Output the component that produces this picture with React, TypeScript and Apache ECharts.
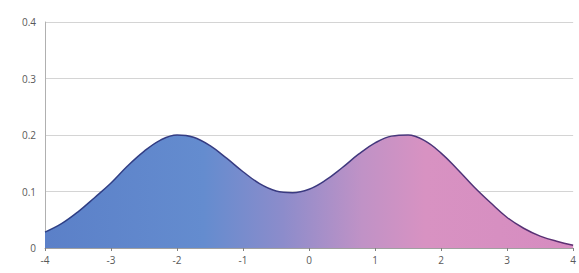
import React, { useEffect, useRef } from "react";
import * as echarts from "echarts";

const xValues = [
  -4, -3.75, -3.5, -3.25, -3, -2.75, -2.5, -2.25, -2, -1.75, -1.5, -1.25, -1,
  -0.75, -0.5, -0.25, 0, 0.25, 0.5, 0.75, 1, 1.25, 1.5, 1.75, 2, 2.25, 2.5,
  2.75, 3, 3.25, 3.5, 3.75, 4,
];
const density = [
  0.028, 0.043, 0.064, 0.089, 0.115, 0.145, 0.171, 0.191, 0.2, 0.196, 0.181,
  0.159, 0.135, 0.114, 0.101, 0.098, 0.104, 0.12, 0.142, 0.166, 0.186, 0.198,
  0.2, 0.19, 0.168, 0.139, 0.108, 0.08, 0.054, 0.035, 0.021, 0.012, 0.005,
];
const yTicks = [0, 0.1, 0.2, 0.3, 0.4];

export default function App() {
  const ref = useRef<HTMLDivElement>(null);
  useEffect(() => {
    if (!ref.current) return;
    const chart = echarts.init(ref.current, undefined, { renderer: "svg" });
    const data = xValues.map((x, i) => [x, density[i]]);
    chart.setOption({
      animation: false,
      backgroundColor: "#ffffff",
      grid: { left: 45, right: 3, top: 22, bottom: 25 },
      xAxis: {
        type: "value",
        min: -4,
        max: 4,
        interval: 1,
        axisLine: { show: true, onZero: false, lineStyle: { color: "#a0a0a0", width: 1 } },
        axisTick: { show: true, length: 3, lineStyle: { color: "#808080" } },
        axisLabel: {
          color: "#595959",
          fontSize: 10,
          fontFamily: "Open Sans",
          margin: 7,
          showMinLabel: true,
          showMaxLabel: true,
        },
        splitLine: { show: false },
      },
      yAxis: {
        type: "value",
        min: yTicks[0],
        max: yTicks[yTicks.length - 1],
        interval: 0.1,
        axisLine: { show: true, onZero: false, lineStyle: { color: "#b0b0b0", width: 1 } },
        axisTick: { show: false },
        axisLabel: {
          color: "#595959",
          fontSize: 10,
          fontFamily: "Open Sans",
          margin: 9,
        },
        splitLine: { show: true, lineStyle: { color: "#d4d4d4", width: 1 } },
      },
      series: [
        {
          type: "line",
          data,
          smooth: 0.4,
          symbol: "none",
          lineStyle: {
            width: 1.5,
            color: new echarts.graphic.LinearGradient(0, 0, 1, 0, [
              { offset: 0, color: "#2c3f86" },
              { offset: 0.5, color: "#3b3a80" },
              { offset: 1, color: "#5e2f72" },
            ]),
          },
          areaStyle: {
            opacity: 1,
            color: new echarts.graphic.LinearGradient(0, 0, 1, 0, [
              { offset: 0, color: "#5b80c8" },
              { offset: 0.3, color: "#648ccf" },
              { offset: 0.45, color: "#8c8ccb" },
              { offset: 0.6, color: "#c092c6" },
              { offset: 0.72, color: "#d892c2" },
              { offset: 1, color: "#d68cc0" },
            ]),
          },
        },
      ],
    });
    return () => chart.dispose();
  }, []);
  return (
    <div
      ref={ref}
      style={{ position: "fixed", left: 0, top: 0, width: 579, height: 273 }}
    />
  );
}
